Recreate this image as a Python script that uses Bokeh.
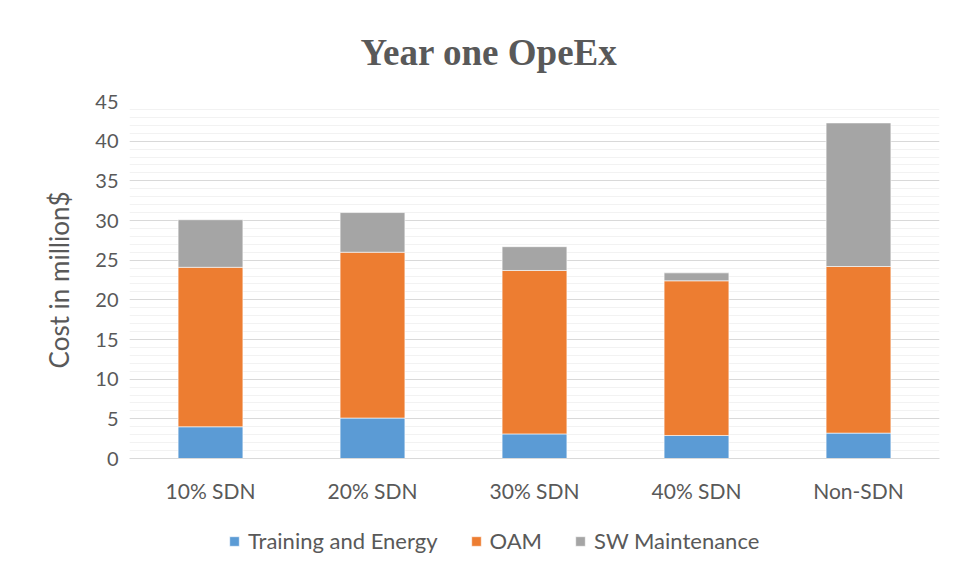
from bokeh.plotting import figure
from bokeh.layouts import column
from bokeh.models import (Range1d, FactorRange, SingleIntervalTicker, Legend,
                          LegendItem, ColumnDataSource)
from bokeh.embed import file_html
from bokeh.resources import INLINE

categories = ["10% SDN", "20% SDN", "30% SDN", "40% SDN", "Non-SDN"]
training = [4.0, 5.1, 3.1, 2.9, 3.2]
oam = [20.1, 20.9, 20.6, 19.5, 21.0]
sw_maint = [6.0, 5.0, 3.0, 1.0, 18.1]
series = ["Training and Energy", "OAM", "SW Maintenance"]
colors = ["#5B9BD5", "#ED7D31", "#A5A5A5"]

TEXT = "#595959"
FONT = "Lato"

source = ColumnDataSource(dict(cat=categories, training=training, oam=oam, sw=sw_maint))

p = figure(x_range=FactorRange(*categories), y_range=Range1d(0, 45),
           frame_width=810, frame_height=357,
           min_border_left=129, min_border_right=15,
           min_border_top=101, min_border_bottom=60,
           output_backend="svg", toolbar_location=None,
           background_fill_color="white", border_fill_color="white",
           title="Year one OpeEx")
p.outline_line_color = None

renderers = p.vbar_stack(["training", "oam", "sw"], x="cat", width=0.4,
                         source=source, color=colors,
                         line_color="white", line_width=0.6)

# title
p.title.align = "left"
p.title.offset = 231
p.title.text_font = "Liberation Serif"
p.title.text_font_style = "bold"
p.title.text_font_size = "37px"
p.title.text_color = TEXT
p.title.standoff = 58

# axes
p.yaxis.ticker = SingleIntervalTicker(interval=5, num_minor_ticks=5)
p.yaxis.axis_line_color = None
p.yaxis.major_tick_line_color = None
p.yaxis.minor_tick_line_color = None
p.yaxis.major_label_text_font = FONT
p.yaxis.major_label_text_font_size = "20px"
p.yaxis.major_label_text_color = TEXT
p.yaxis.major_label_standoff = 5
p.yaxis.axis_label = "Cost in million$"
p.yaxis.axis_label_text_font = FONT
p.yaxis.axis_label_text_font_size = "26px"
p.yaxis.axis_label_text_font_style = "normal"
p.yaxis.axis_label_text_color = TEXT
p.yaxis.axis_label_standoff = 17

p.xaxis.axis_line_color = "#D9D9D9"
p.xaxis.axis_line_width = 1
p.xaxis.major_tick_line_color = None
p.xaxis.minor_tick_line_color = None
p.xaxis.major_label_text_font = FONT
p.xaxis.major_label_text_font_size = "21px"
p.xaxis.major_label_text_color = TEXT
p.xaxis.major_label_standoff = 13

# grids
p.xgrid.grid_line_color = None
p.ygrid.grid_line_color = "#D9D9D9"
p.ygrid.grid_line_width = 1
p.ygrid.minor_grid_line_color = "#F2F2F2"
p.ygrid.minor_grid_line_width = 1

# legend strip below the chart
lg = figure(x_range=Range1d(0, 1), y_range=Range1d(0, 1),
            frame_width=954, frame_height=58,
            min_border_left=0, min_border_right=0,
            min_border_top=0, min_border_bottom=0,
            x_axis_type=None, y_axis_type=None,
            output_backend="svg", toolbar_location=None,
            background_fill_color="white", border_fill_color="white")
lg.outline_line_color = None
lg.xgrid.grid_line_color = None
lg.ygrid.grid_line_color = None
# swatch renderers sit outside the visible range; they only feed the legend
swatches = [lg.vbar(x=[-5], top=[-5], bottom=[-6], width=0.1, color=c,
                    line_color="white", line_width=0.6) for c in colors]

items = [LegendItem(label=s, renderers=[r]) for s, r in zip(series, swatches)]
legend = Legend(items=items, orientation="horizontal", location=(228, 22),
                glyph_width=12, glyph_height=12, label_standoff=8, spacing=32,
                padding=0, margin=0, border_line_color=None,
                background_fill_alpha=0, label_text_font=FONT,
                label_text_font_size="22px", label_text_color=TEXT)
lg.add_layout(legend)

layout = column(p, lg, spacing=0)
open("out.html", "w").write(file_html(layout, INLINE))
